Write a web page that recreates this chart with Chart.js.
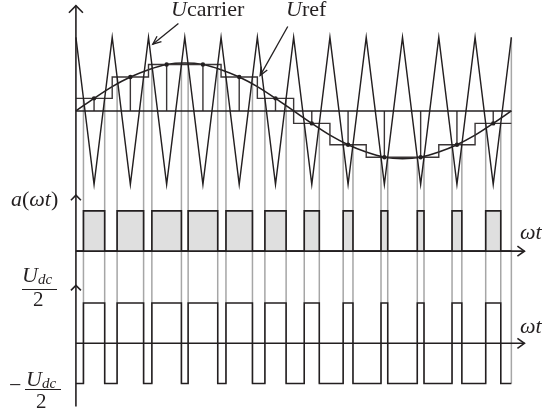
<!DOCTYPE html>
<html>
<head>
<meta charset="utf-8">
<script src="https://cdn.jsdelivr.net/npm/chart.js@4.4.1/dist/chart.umd.min.js"></script>
<style>
  html, body { margin: 0; padding: 0; background: #fff; }
  #wrap { position: relative; width: 542px; height: 413px; font-family: "Liberation Serif", "Times New Roman", serif; color: #231f20; }
  #wrap canvas { position: absolute; left: 0; top: 0; }
  .lbl { position: absolute; font-size: 22px; line-height: 1; white-space: nowrap; }
  .it { font-style: italic; }
  .sub { position: absolute; font-size: 15px; line-height: 1; font-style: italic; }
  .two { position: absolute; font-size: 21px; line-height: 1; }
  .bar { position: absolute; height: 1px; background: #231f20; }
</style>
</head>
<body>
<div id="wrap">
  <canvas id="pwmChart" width="542" height="413"></canvas>

  <div class="lbl" style="left:171px;top:-2px"><span class="it">U</span>carrier</div>
  <div class="lbl" style="left:286px;top:-2px"><span class="it">U</span>ref</div>
  <div class="lbl" style="left:11px;top:188px"><span class="it">a</span>(<span class="it">ωt</span>)</div>
  <div class="lbl it" style="left:520px;top:221px">ωt</div>
  <div class="lbl it" style="left:520px;top:315px">ωt</div>

  <div class="lbl it" style="left:22px;top:264px">U</div>
  <div class="sub" style="left:38px;top:272px">dc</div>
  <div class="bar" style="left:22px;top:289px;width:35px"></div>
  <div class="two" style="left:33px;top:289px">2</div>

  <div class="lbl" style="left:9px;top:374px">−</div>
  <div class="lbl it" style="left:26px;top:368px">U</div>
  <div class="sub" style="left:42px;top:376px">dc</div>
  <div class="bar" style="left:25px;top:389px;width:36px"></div>
  <div class="two" style="left:36px;top:391px">2</div>
</div>

<script>
// time axis in carrier periods, carrier amplitude = 1
var carrierTimes = [0, 0.5, 1, 1.5, 2, 2.5, 3, 3.5, 4, 4.5, 5, 5.5, 6, 6.5, 7, 7.5, 8, 8.5, 9, 9.5, 10, 10.5, 11, 11.5, 12]
var carrierValues = [1, -1, 1, -1, 1, -1, 1, -1, 1, -1, 1, -1, 1, -1, 1, -1, 1, -1, 1, -1, 1, -1, 1, -1, 1]

var refTimes = [0, 0.5, 1, 1.5, 2, 2.5, 3, 3.5, 4, 4.5, 5, 5.5, 6, 6.5, 7, 7.5, 8, 8.5, 9, 9.5, 10, 10.5, 11, 11.5, 12]
var refValues = [0, 0.17, 0.33, 0.46, 0.56, 0.63, 0.65, 0.63, 0.56, 0.46, 0.33, 0.17, 0,
                 -0.17, -0.33, -0.46, -0.56, -0.63, -0.65, -0.63, -0.56, -0.46, -0.33, -0.17, 0]

// regular samples taken at the carrier troughs
var sampleTimes = [0.5, 1.5, 2.5, 3.5, 4.5, 5.5, 6.5, 7.5, 8.5, 9.5, 10.5, 11.5]
var sampleValues = [0.17, 0.46, 0.63, 0.63, 0.46, 0.17, -0.17, -0.46, -0.63, -0.63, -0.46, -0.17]

var DARK = '#231f20', GREY = '#a6a6a6', SHADE = '#dfdfdf'

// where the panels sit on the y scale
var X_MIN = -1.982, X_MAX = 12.734, Y_MIN = -4.053, Y_MAX = 1.453
var A_BASE = -1.907, A_HIGH = -1.36
var V_ZERO = -3.16, V_HIGH = -2.613, V_LOW = -3.707

// switching instants: where the held sample crosses the carrier
var onT = [], offT = []
sampleValues.forEach(function (s, k) {
    var t0 = carrierTimes[2 * k], t1 = carrierTimes[2 * k + 1], t2 = carrierTimes[2 * k + 2]
    var c0 = carrierValues[2 * k], c1 = carrierValues[2 * k + 1], c2 = carrierValues[2 * k + 2]
    onT.push(t0 + (c0 - s) / (c0 - c1) * (t1 - t0))
    offT.push(t1 + (s - c1) / (c2 - c1) * (t2 - t1))
})

function pts(list) {
    return list.map(function (p) { return { x: p[0], y: p[1] } })
}

function lineSet(list, color, width, order) {
    return {
        data: pts(list), borderColor: color, borderWidth: width,
        pointRadius: 0, fill: false, tension: 0, order: order
    }
}

function pulses(low, high) {
    var out = [[carrierTimes[0], low]]
    onT.forEach(function (t, k) {
        out.push([t, low], [t, high], [offT[k], high], [offT[k], low])
    })
    out.push([carrierTimes[carrierTimes.length - 1], low])
    return out
}

var datasets = []

// shaded pulses of a(wt)
var shade = lineSet(pulses(A_BASE, A_HIGH), 'rgba(0,0,0,0)', 0, 10)
shade.fill = { value: A_BASE }
shade.backgroundColor = SHADE
datasets.push(shade)

// grey switching lines
onT.forEach(function (t, k) {
    datasets.push(lineSet([[t, sampleValues[k]], [t, V_LOW]], GREY, 1.5, 5))
    datasets.push(lineSet([[offT[k], sampleValues[k]], [offT[k], V_LOW]], GREY, 1.5, 5))
})
var tEnd = carrierTimes[carrierTimes.length - 1]
datasets.push(lineSet([[tEnd, carrierValues[carrierValues.length - 1]], [tEnd, V_LOW]], GREY, 1.5, 5))

// zero line of the top panel
datasets.push(lineSet([[carrierTimes[0], 0], [tEnd, 0]], DARK, 1.5, 1))

// carrier
datasets.push(lineSet(carrierTimes.map(function (t, i) { return [t, carrierValues[i]] }), DARK, 1.4, 1))

// staircase of held samples
var stair = []
sampleValues.forEach(function (s, k) {
    stair.push([carrierTimes[2 * k], s], [carrierTimes[2 * k + 2], s])
})
datasets.push(lineSet(stair, '#3a3536', 1.4, 1))

// sample stems
sampleTimes.forEach(function (t, k) {
    datasets.push(lineSet([[t, 0], [t, sampleValues[k]]], '#3a3536', 1.4, 1))
})

// reference sine
var ref = lineSet(refTimes.map(function (t, i) { return [t, refValues[i]] }), DARK, 1.6, 1)
ref.cubicInterpolationMode = 'monotone'
datasets.push(ref)

// sample dots
datasets.push({
    data: pts(sampleTimes.map(function (t, k) { return [t, sampleValues[k]] })),
    showLine: false, pointRadius: 2.2, pointBackgroundColor: DARK, pointBorderWidth: 0, order: 0
})

// a(wt) outline and inverter voltage
datasets.push(lineSet(pulses(A_BASE, A_HIGH), DARK, 1.6, 1))
datasets.push(lineSet(pulses(V_LOW, V_HIGH), DARK, 1.5, 1))

// axes, arrow heads and the two label pointers
var decor = {
    id: 'decor',
    afterDatasetsDraw: function (chart) {
        var ctx = chart.ctx, xs = chart.scales.x, ys = chart.scales.y
        var X = function (v) { return xs.getPixelForValue(v) }
        var Y = function (v) { return ys.getPixelForValue(v) }
        ctx.save()
        ctx.strokeStyle = DARK
        ctx.lineWidth = 1.6

        function path(list) {
            ctx.beginPath()
            ctx.moveTo(list[0][0], list[0][1])
            for (var i = 1; i < list.length; i++) ctx.lineTo(list[i][0], list[i][1])
            ctx.stroke()
        }

        var x0 = X(0)
        path([[x0, Y(1.43)], [x0, Y(-4.02)]])
        path([[x0 - 7, Y(1.43) + 7], [x0, Y(1.43)], [x0 + 7, Y(1.43) + 7]])
        path([[x0 - 5, Y(-1.147) + 5], [x0, Y(-1.147)], [x0 + 5, Y(-1.147) + 5]])
        path([[x0 - 5, Y(-2.373) + 5], [x0, Y(-2.373)], [x0 + 5, Y(-2.373) + 5]])

        var xe = X(12.36)
        ;[A_BASE, V_ZERO].forEach(function (v) {
            path([[x0, Y(v)], [xe, Y(v)]])
            path([[xe - 7, Y(v) - 5], [xe, Y(v)], [xe - 7, Y(v) + 5]])
        })

        function pointer(t1, v1, t2, v2) {
            var ax = X(t1), ay = Y(v1), bx = X(t2), by = Y(v2)
            var ang = Math.atan2(by - ay, bx - ax), L = 9, w = 0.4
            ctx.lineWidth = 1.3
            path([[ax, ay], [bx, by]])
            path([[bx - L * Math.cos(ang - w), by - L * Math.sin(ang - w)], [bx, by],
                  [bx - L * Math.cos(ang + w), by - L * Math.sin(ang + w)]])
        }
        pointer(2.824, 1.187, 2.118, 0.907)
        pointer(5.838, 1.147, 5.077, 0.48)
        ctx.restore()
    }
}

var ctx = document.getElementById('pwmChart').getContext('2d')
var pwmChart = new Chart(ctx, {
    type: 'line',
    data: { datasets: datasets },
    options: {
        responsive: false,
        animation: false,
        events: [],
        layout: { padding: 0 },
        plugins: { legend: { display: false }, tooltip: { enabled: false } },
        scales: {
            x: { type: 'linear', min: X_MIN, max: X_MAX, display: false },
            y: { type: 'linear', min: Y_MIN, max: Y_MAX, display: false }
        }
    },
    plugins: [decor]
})
</script>
</body>
</html>
